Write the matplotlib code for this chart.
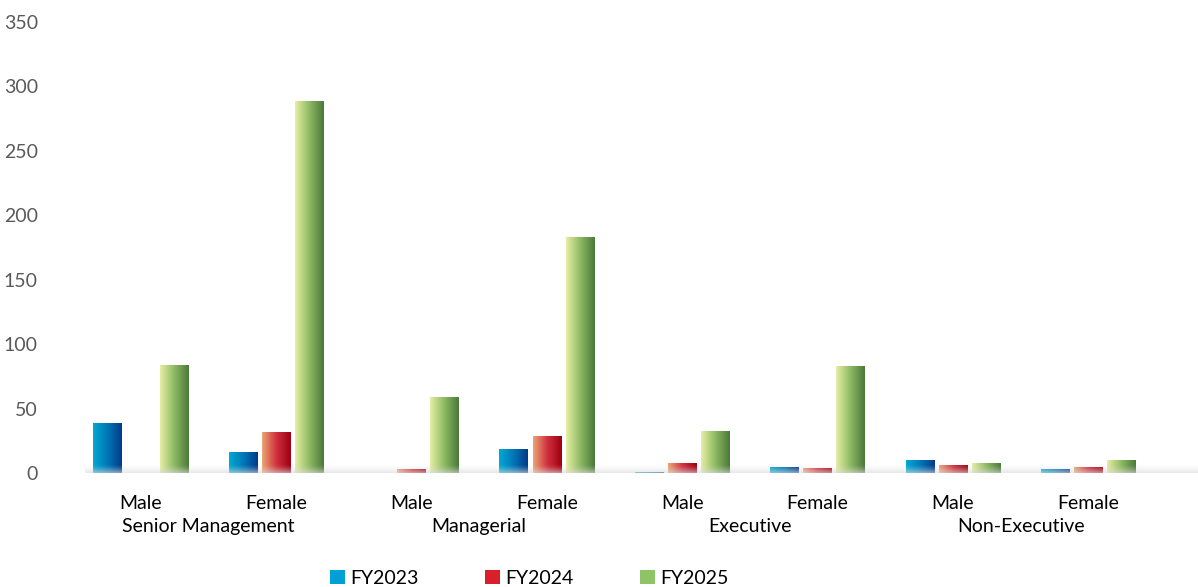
import numpy as np
import matplotlib
matplotlib.use('Agg')
import matplotlib.pyplot as plt
from matplotlib.colors import LinearSegmentedColormap
from matplotlib.patches import Patch

groups = ['Senior Management', 'Managerial', 'Executive', 'Non-Executive']
genders = ['Male', 'Female']
years = ['FY2023', 'FY2024', 'FY2025']

fy2023 = [39, 16, 0, 19, 1, 5, 10, 3]
fy2024 = [0, 32, 3, 29, 8, 4, 6, 5]
fy2025 = [84, 289, 59, 183, 33, 83, 8, 10]

plt.rcParams['font.family'] = ['Lato', 'DejaVu Sans']

# left-to-right shading for each series, plus the flat colour used in the legend
ramps = {
    'FY2023': ['#00aad2', '#0077b8', '#003a8a'],
    'FY2024': ['#eaa574', '#d0303e', '#9e0010'],
    'FY2025': ['#e6eea4', '#8cba62', '#4c783a'],
}
flat = {'FY2023': '#00a0d4', 'FY2024': '#d81f2a', 'FY2025': '#8ec465'}

fig = plt.figure(figsize=(11.98, 5.87), dpi=100)
ax = fig.add_axes([0.071, 0.194, 0.929, 0.7685])

x = np.arange(len(fy2023))
width = 0.21
step = 0.245
grad = np.linspace(0, 1, 64).reshape(1, -1)

for i, (name, vals) in enumerate(zip(years, [fy2023, fy2024, fy2025])):
    cmap = LinearSegmentedColormap.from_list(name, ramps[name])
    bars = ax.bar(x + (i - 1) * step, vals, width, color='none', edgecolor='none', zorder=2)
    for p in bars:
        if p.get_height() <= 0:
            continue
        x0, y0 = p.get_x(), p.get_y()
        im = ax.imshow(grad, cmap=cmap, extent=[x0, x0 + p.get_width(), y0, y0 + p.get_height()],
                       aspect='auto', zorder=2, interpolation='bilinear')
        im.set_clip_path(p)

# soft grey floor along the baseline
floor = np.zeros((32, 2, 4))
floor[..., :3] = 0.86
floor[..., 3] = np.linspace(0, 0.75, 32)[:, None] ** 1.5
ax.imshow(floor, extent=[-0.41, 7.81, 0, 6.5], origin='upper', aspect='auto', zorder=3,
          interpolation='bilinear')

ax.set_xlim(-0.41, 7.81)
ax.set_ylim(0, 350)
ax.set_yticks(range(0, 351, 50))
ax.tick_params(axis='y', length=0, pad=34, labelsize=14, labelcolor='#5a5a5a')
ax.set_xticks(x, genders * len(groups))
ax.tick_params(axis='x', length=0, pad=16, labelsize=14, labelcolor='black')
for s in ax.spines.values():
    s.set_visible(False)

for g, name in enumerate(groups):
    ax.annotate(name, xy=(2 * g + 0.5, 0), xycoords=('data', 'axes fraction'),
                xytext=(0, -38.5), textcoords='offset points', ha='center', va='center',
                fontsize=14, color='black')

handles = [Patch(facecolor=flat[y], edgecolor='none') for y in years]
fig.legend(handles, years, loc='center', bbox_to_anchor=(0.442, 0.0153), ncol=3, frameon=False,
           fontsize=14, handlelength=0.75, handleheight=0.75, handletextpad=0.3,
           columnspacing=3.4)

fig.savefig('out.png', dpi=100)
